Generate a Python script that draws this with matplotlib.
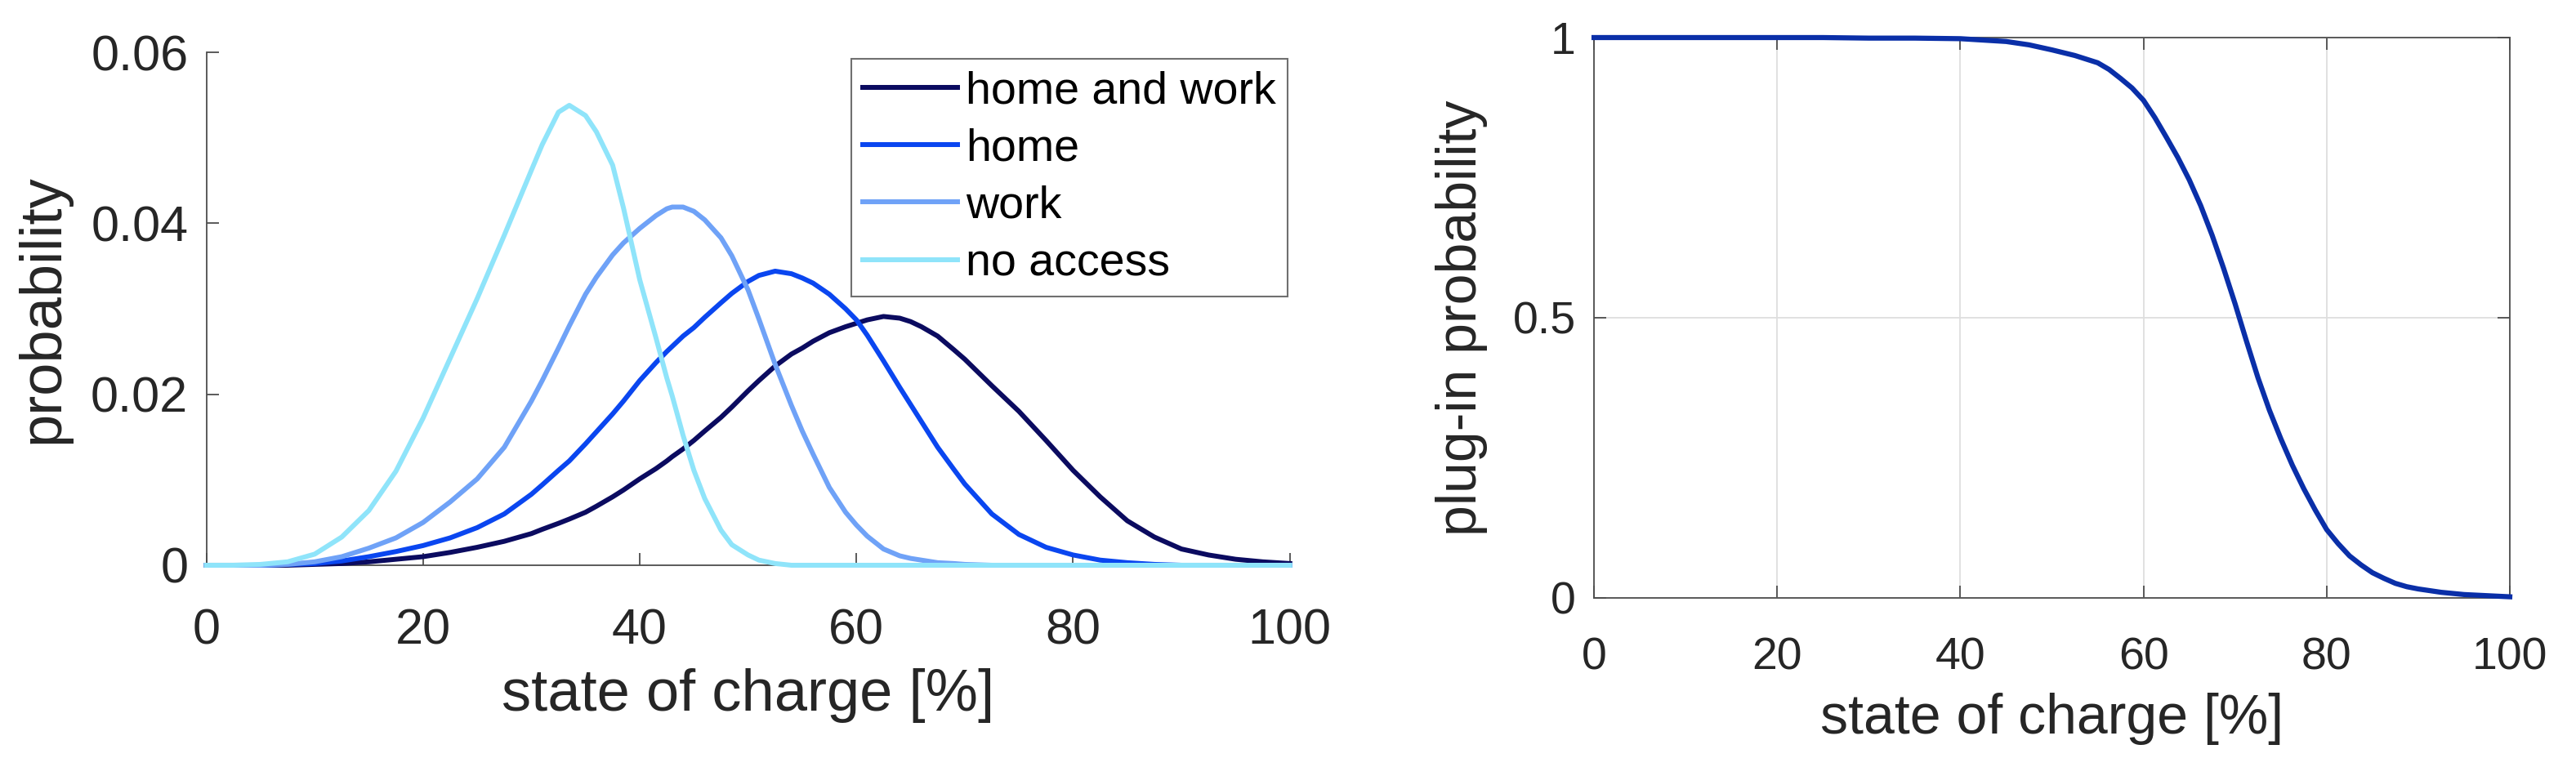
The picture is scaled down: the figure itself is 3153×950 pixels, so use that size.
import matplotlib
matplotlib.use('Agg')
import matplotlib.pyplot as plt

plt.rcParams['font.family'] = ['Liberation Sans', 'DejaVu Sans']

# state of charge grid for the left panel [%]
soc = [0, 2.5, 5, 7.5, 10, 12.5, 15, 17.5, 20, 22.5, 25, 27.5, 30,
       31, 32.5, 33.5, 35, 36, 37.5, 38.5, 40,
       41.5, 42.5, 43, 44, 45, 46, 47.5, 48.5, 50,
       51, 52.5, 54, 55, 56, 57.5, 59, 60,
       61, 62.5, 64, 65, 66, 67.5, 69, 70,
       72.5, 75, 77.5, 80, 82.5, 85, 87.5, 90, 92.5, 95, 97.5, 100]

home_and_work = [0, 0, 0, 0, 0.0001, 0.0002, 0.0004, 0.0007, 0.0010, 0.0015, 0.0021, 0.0028, 0.0037,
                 0.0042, 0.0049, 0.0054, 0.0062, 0.0069, 0.0080, 0.0088, 0.0101,
                 0.0113, 0.0122, 0.0127, 0.0136, 0.0146, 0.0157, 0.0173, 0.0185, 0.0204,
                 0.0216, 0.0233, 0.0247, 0.0254, 0.0262, 0.0272, 0.0279, 0.0283,
                 0.0287, 0.0291, 0.0289, 0.0285, 0.0279, 0.0268, 0.0252, 0.0241,
                 0.0210, 0.0180, 0.0146, 0.0111, 0.0080, 0.0052, 0.0033, 0.0019, 0.0012, 0.0007, 0.0004, 0.0002]
home = [0, 0, 0, 0.0001, 0.0002, 0.0005, 0.0010, 0.0016, 0.0023, 0.0032, 0.0044, 0.0060, 0.0083,
        0.0094, 0.0111, 0.0122, 0.0142, 0.0156, 0.0177, 0.0192, 0.0216,
        0.0237, 0.0250, 0.0256, 0.0268, 0.0278, 0.0290, 0.0307, 0.0318, 0.0332,
        0.0339, 0.0344, 0.0341, 0.0336, 0.0330, 0.0317, 0.0300, 0.0287,
        0.0269, 0.0239, 0.0208, 0.0188, 0.0168, 0.0138, 0.0112, 0.0095,
        0.0060, 0.0036, 0.0021, 0.0012, 0.0006, 0.0003, 0.0001, 0, 0, 0, 0, 0]
work = [0, 0, 0, 0.0001, 0.0004, 0.0010, 0.0020, 0.0032, 0.0050, 0.0074, 0.0101, 0.0138, 0.0192,
        0.0216, 0.0254, 0.0280, 0.0317, 0.0337, 0.0363, 0.0377, 0.0394,
        0.0409, 0.0417, 0.0419, 0.0419, 0.0414, 0.0404, 0.0383, 0.0362, 0.0322,
        0.0288, 0.0235, 0.0187, 0.0157, 0.0130, 0.0091, 0.0062, 0.0047,
        0.0034, 0.0019, 0.0011, 0.0008, 0.0006, 0.0003, 0.0002, 0.0001,
        0, 0, 0, 0, 0, 0, 0, 0, 0, 0, 0, 0]
no_access = [0, 0, 0.0001, 0.0004, 0.0013, 0.0033, 0.0064, 0.0110, 0.0172, 0.0242, 0.0312, 0.0386, 0.0462,
             0.0492, 0.0530, 0.0538, 0.0526, 0.0507, 0.0468, 0.0418, 0.0334,
             0.0266, 0.0219, 0.0198, 0.0152, 0.0111, 0.0078, 0.0041, 0.0024, 0.0012,
             0.0006, 0.0002, 0, 0, 0, 0, 0, 0,
             0, 0, 0, 0, 0, 0, 0, 0,
             0, 0, 0, 0, 0, 0, 0, 0, 0, 0, 0, 0]

# right panel
soc_plug = [0, 5, 10, 15, 20, 25, 30, 35, 40, 45,
            47.5, 50, 52.5, 55, 56.25, 57.5, 58.75, 60, 61.25, 62.5, 63.75, 65,
            66.25, 67.5, 68.75, 70, 71.25, 72.5, 73.75, 75, 76.25, 77.5, 78.75, 80,
            81.25, 82.5, 83.75, 85, 86.25, 87.5, 88.75, 90, 92.5, 95, 97.5, 100]
plug_in = [1.0, 1.0, 1.0, 1.0, 1.0, 1.0, 0.999, 0.999, 0.998, 0.993,
           0.987, 0.978, 0.968, 0.955, 0.943, 0.927, 0.910, 0.888, 0.857, 0.822, 0.786, 0.746,
           0.700, 0.647, 0.588, 0.525, 0.458, 0.393, 0.335, 0.284, 0.237, 0.195, 0.157, 0.122,
           0.097, 0.075, 0.059, 0.045, 0.035, 0.026, 0.020, 0.016, 0.010, 0.006, 0.004, 0.002]

labels = ['home and work', 'home', 'work', 'no access']
colors = ['#0b0b60', '#0a46f0', '#6fa2f7', '#8fe4fa']
series = [home_and_work, home, work, no_access]

axis_col = '#4d4d4d'
txt_col = '#262626'

fig = plt.figure(figsize=(31.53, 9.5), dpi=100)

# ---- left panel ----
ax1 = fig.add_axes([0.0801, 0.2716, 0.4206, 0.661])
for vals, lab, c in zip(series, labels, colors):
    ax1.plot(soc, vals, color=c, lw=4.3, label=lab, clip_on=False, zorder=3,
             solid_joinstyle='round')
ax1.set_xlim(0, 100)
ax1.set_ylim(0, 0.06)
ax1.set_xticks([0, 20, 40, 60, 80, 100])
ax1.set_yticks([0, 0.02, 0.04, 0.06])
ax1.set_yticklabels(['0', '0.02', '0.04', '0.06'])
for s in ['top', 'right']:
    ax1.spines[s].set_visible(False)
for s in ['left', 'bottom']:
    ax1.spines[s].set_color(axis_col)
    ax1.spines[s].set_linewidth(1.3)
ax1.tick_params(direction='in', length=11, width=1.3, color=axis_col,
                labelsize=44, labelcolor=txt_col)
ax1.tick_params(axis='x', pad=38)
ax1.tick_params(axis='y', pad=16)
ax1.set_xlabel('state of charge [%]', fontsize=52, color=txt_col, labelpad=12)
ax1.set_ylabel('probability', fontsize=52, color=txt_col, labelpad=18)
leg = ax1.legend(loc='upper right', bbox_to_anchor=(0.998, 0.987),
                 borderaxespad=0, fontsize=40, handlelength=2.1,
                 handletextpad=0.18, labelspacing=0.33, borderpad=0.25,
                 fancybox=False, framealpha=1)
leg.get_frame().set_edgecolor('#707070')
leg.get_frame().set_linewidth(1.5)
for t in leg.get_texts():
    t.set_color('black')

# ---- right panel ----
ax2 = fig.add_axes([0.6188, 0.2295, 0.3555, 0.7221])
ax2.plot(soc_plug, plug_in, color='#0a2fa8', lw=4.5, clip_on=False, zorder=3,
         solid_joinstyle='round')
ax2.set_xlim(0, 100)
ax2.set_ylim(0, 1)
ax2.set_xticks([0, 20, 40, 60, 80, 100])
ax2.set_yticks([0, 0.5, 1])
ax2.set_yticklabels(['0', '0.5', '1'])
ax2.grid(True, color='#dedede', lw=1.3)
ax2.set_axisbelow(True)
for s in ax2.spines.values():
    s.set_color(axis_col)
    s.set_linewidth(1.3)
ax2.tick_params(direction='in', length=11, width=1.3, color=axis_col,
                labelsize=40, labelcolor=txt_col, top=True, right=True)
ax2.tick_params(axis='x', pad=34)
ax2.tick_params(axis='y', pad=16)
ax2.set_xlabel('state of charge [%]', fontsize=49, color=txt_col, labelpad=12)
ax2.set_ylabel('plug-in probability', fontsize=49, color=txt_col, labelpad=22)

fig.savefig('out.png', dpi=100, facecolor='white')
